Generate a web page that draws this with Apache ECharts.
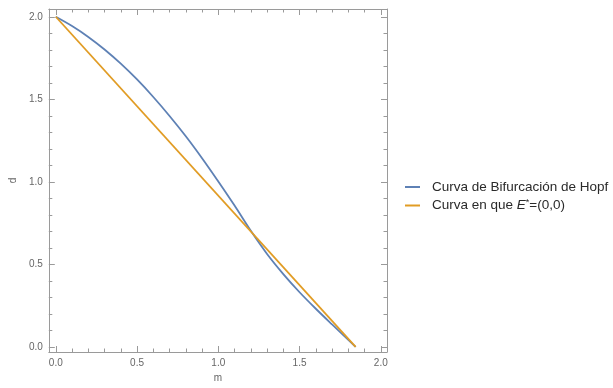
<!DOCTYPE html>
<html>
<head>
<meta charset="utf-8">
<script src="https://cdn.jsdelivr.net/npm/echarts@6/dist/echarts.min.js"></script>
<style>html,body{margin:0;padding:0;background:#fff;}#c{width:613px;height:388px;}</style>
</head>
<body>
<div id="c"></div>
<script>
// Data
const hopfX = [0, 0.1, 0.2, 0.3, 0.4, 0.5, 0.6, 0.7, 0.8, 0.9, 1.0, 1.1, 1.2, 1.3, 1.4, 1.5, 1.6, 1.7, 1.845];
const hopfY = [2.0, 1.944, 1.878, 1.802, 1.716, 1.620, 1.514, 1.399, 1.276, 1.143, 1.002, 0.856, 0.703, 0.563, 0.441, 0.331, 0.231, 0.136, 0];
const lineX = [0, 1.845];
const lineY = [2.0, 0];
const majorTicks = [0, 0.5, 1.0, 1.5, 2.0];
const minorTicks = [0.1,0.2,0.3,0.4,0.6,0.7,0.8,0.9,1.1,1.2,1.3,1.4,1.6,1.7,1.8,1.9];
const seriesNames = ['Curva de Bifurcación de Hopf', 'Curva en que E*=(0,0)'];

const FONT = 'Liberation Sans, Arial, sans-serif';
const frameColor = '#9a9a9a';
const xMin = -0.043, xMax = 2.038, yMin = -0.031, yMax = 2.047;

function axis(kind, pos, withLine, ticks, len, labels, extra) {
  const a = {
    type: 'value', position: pos, min: kind === 'x' ? xMin : yMin, max: kind === 'x' ? xMax : yMax,
    axisLine: { show: withLine, onZero: false, lineStyle: { color: frameColor, width: 1 } },
    axisTick: { show: true, inside: true, length: len, customValues: ticks, lineStyle: { color: frameColor, width: 1 } },
    axisLabel: labels ? { show: true, customValues: ticks, formatter: v => v.toFixed(1), color: '#666', fontSize: 10, fontFamily: FONT, margin: 6 } : { show: false },
    splitLine: { show: false }
  };
  return Object.assign(a, extra || {});
}

const xAxes = [
  axis('x', 'bottom', true, majorTicks, 6, true, { name: 'm', nameLocation: 'middle', nameGap: 18, nameTextStyle: { color: '#666', fontSize: 10, fontFamily: FONT } }),
  axis('x', 'bottom', false, minorTicks, 3.5, false),
  axis('x', 'top', true, majorTicks, 6, false),
  axis('x', 'top', false, minorTicks, 3.5, false)
];
const yAxes = [
  axis('y', 'left', true, majorTicks, 6, true, { name: 'd', nameLocation: 'middle', nameGap: 30, nameTextStyle: { color: '#666', fontSize: 10, fontFamily: FONT } }),
  axis('y', 'left', false, minorTicks, 3.5, false),
  axis('y', 'right', true, majorTicks, 6, false),
  axis('y', 'right', false, minorTicks, 3.5, false)
];

const chart = echarts.init(document.getElementById('c'), null, { renderer: 'canvas' });
chart.setOption({
  animation: false,
  backgroundColor: '#fff',
  grid: { left: 45, top: 9, width: 342, height: 343, containLabel: false },
  xAxis: xAxes,
  yAxis: yAxes,
  legend: {
    orient: 'vertical', left: 400, top: 175, itemWidth: 15, itemHeight: 14, itemGap: 4,
    icon: 'path://M0,6 L15,6 L15,8 L0,8 Z',
    data: seriesNames,
    formatter: function (name) {
      if (name === seriesNames[1]) return 'Curva en que {e|E}{s|*}=(0,0)';
      return name;
    },
    textStyle: {
      color: '#2a2a2a', fontSize: 13.5, fontFamily: FONT, padding: [0, 0, 0, 7],
      rich: {
        e: { fontStyle: 'italic', fontSize: 13.5, fontFamily: FONT, color: '#2a2a2a' },
        s: { fontSize: 9, fontFamily: FONT, color: '#2a2a2a', verticalAlign: 'top', padding: [0, 0, 6, 0] }
      }
    }
  },
  series: [
    {
      name: seriesNames[0], type: 'line', smooth: 0.3, symbol: 'none',
      data: hopfX.map((x, i) => [x, hopfY[i]]),
      lineStyle: { color: '#5E81B5', width: 1.8 }, itemStyle: { color: '#5E81B5' }
    },
    {
      name: seriesNames[1], type: 'line', symbol: 'none',
      data: lineX.map((x, i) => [x, lineY[i]]),
      lineStyle: { color: '#E19C24', width: 1.8 }, itemStyle: { color: '#E19C24' }
    }
  ]
});
</script>
</body>
</html>
